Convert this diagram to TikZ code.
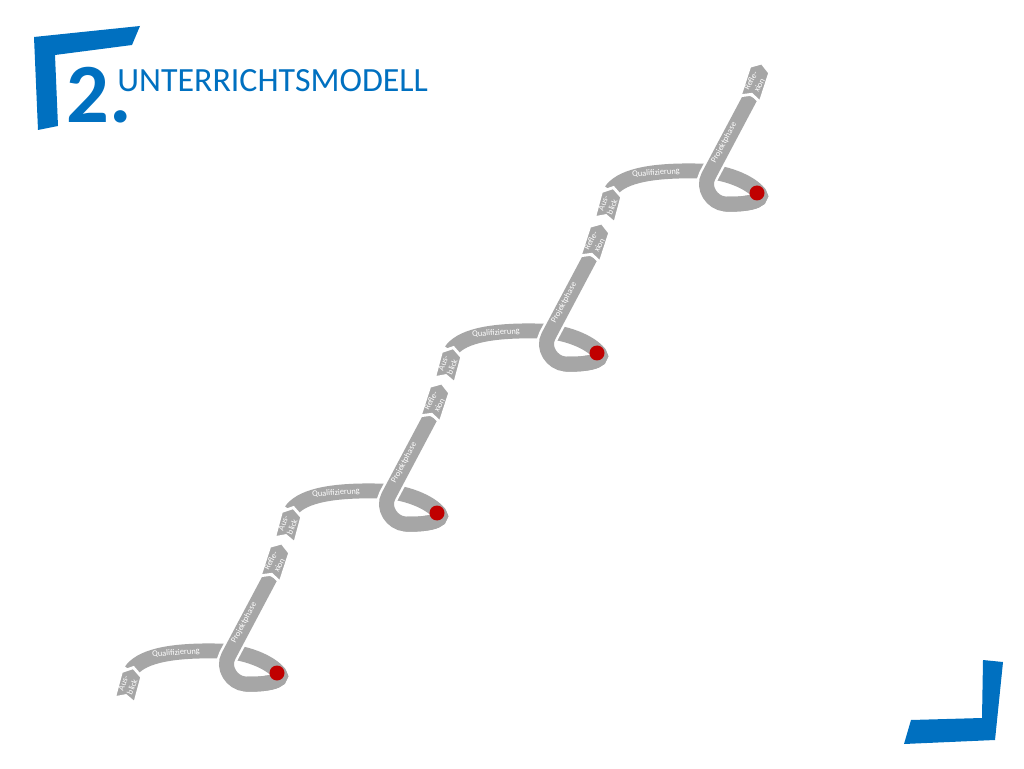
\documentclass[tikz,border=0pt]{standalone}
\usepackage{fontspec}
\setmainfont{Carlito}

\definecolor{ribbon}{RGB}{166,166,166}
\definecolor{logoblue}{RGB}{0,112,192}
\definecolor{pinred}{RGB}{192,0,0}

\tikzset{
  band/.style={draw=ribbon, line width=8.5pt},
  bandgap/.style={draw=white, line width=11.3pt},
  chev/.style={fill=ribbon, draw=white, line width=1.6pt, line join=miter},
  lbl/.style={text=white, inner sep=0pt, font=\fontsize{4.8}{5.4}\selectfont}
}

\begin{document}
\begin{tikzpicture}[x=0.02cm, y=0.02cm]
\useasboundingbox (0,0) rectangle (1024,768);
% corner marks of the slide
\fill[logoblue] (34,731) -- (140,742) -- (132,723) -- (55,713) -- (58,642) -- (38,638) -- cycle;
\fill[logoblue] (983,108) -- (1003,106) -- (995,28) -- (904,24) -- (911,48) -- (982,50) -- cycle;
% title
\node[anchor=base west, inner sep=0pt, text=logoblue, font=\fontsize{48}{48}\selectfont\bfseries] (num) at (66,645) {2.};
\node[anchor=base west, inner sep=0pt, text=logoblue, font=\fontsize{19.3}{20}\selectfont] (title) at (117,676) {UNTERRICHTSMODELL};
% four turns of the ribbon
\foreach \k in {0,...,3}{
\begin{scope}[shift={(160*\k,160*\k)}]
% Qualifizierung, loop and Projektphase
\draw[bandgap] (131,97) .. controls (140,110) and (165,118) .. (217,117)
  .. controls (245,117) and (270,106) .. (279,95)
  .. controls (286,86) and (262,83) .. (245,84)
  .. controls (232,85) and (222,100) .. (228.5,112) -- (270.7,191.5);
\draw[band] (131,97) .. controls (140,110) and (165,118) .. (217,117)
  .. controls (245,117) and (270,106) .. (279,95)
  .. controls (286,86) and (262,83) .. (245,84)
  .. controls (232,85) and (222,100) .. (228.5,112) -- (270.7,191.5);
% Projektphase passes over Qualifizierung
\draw[bandgap] (245,84) .. controls (232,85) and (222,100) .. (228.5,112) -- (270.7,191.5);
\draw[band] (279,95) .. controls (286,86) and (262,83) .. (245,84)
  .. controls (232,85) and (222,100) .. (228.5,112) -- (270.7,191.5);
% Reflexion
\begin{scope}[shift={(276,207)}, rotate=72]
\draw[chev] (-19,-10.5) -- (-14,0) -- (-19,10.5) -- (12,10.5) -- (19,0) -- (12,-10.5) -- cycle;
\end{scope}
% Ausblick
\begin{scope}[shift={(129,84)}, rotate=75]
\draw[chev] (-17,-10.5) -- (-12,0) -- (-17,10.5) -- (10,10.5) -- (17,0) -- (10,-10.5) -- cycle;
\end{scope}
% pin
\fill[pinred] (277,95) circle (7.5);
% labels
\node[lbl, rotate=4] (qual\k) at (176,115) {Qualifizierung};
\node[lbl, rotate=62] (proj\k) at (244,145) {Projektphase};
\node[lbl, rotate=62, align=center] (refl\k) at (275,205) {Refle-\\xion};
\node[lbl, rotate=68, align=center] (aus\k) at (128,83) {Aus-\\blick};
\end{scope}
}
\end{tikzpicture}
\end{document}
